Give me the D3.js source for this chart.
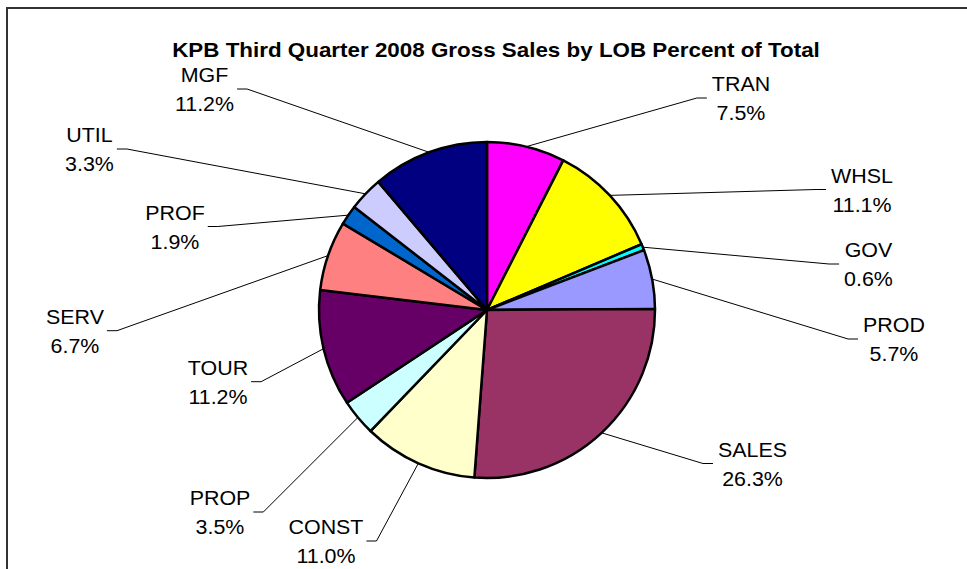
<!DOCTYPE html>
<html>
<head>
<meta charset="utf-8">
<script src="https://cdn.jsdelivr.net/npm/d3@7"></script>
<style>
body { margin: 0; background: #fff; }
svg { display: block; font-family: Arial, "Liberation Sans", sans-serif; }
</style>
</head>
<body>
<svg id="chart"></svg>
<script>
const categories = ['TRAN', 'WHSL', 'GOV', 'PROD', 'SALES', 'CONST', 'PROP', 'TOUR', 'SERV', 'PROF', 'UTIL', 'MGF'];
const percents = [7.5, 11.1, 0.6, 5.7, 26.3, 11.0, 3.5, 11.2, 6.7, 1.9, 3.3, 11.2];
const colors = ['#ff00ff', '#ffff00', '#00ffff', '#9999ff', '#993366', '#ffffcc',
                '#ccffff', '#660066', '#ff8080', '#0066cc', '#ccccff', '#000080'];

// where each label sits (centre x, middle y), same order as categories
const label_pos = [[741, 98], [862, 189.5], [868.5, 264], [894, 339], [752.5, 463.5], [326, 541],
                   [220, 512], [218, 381.7], [75, 330.7], [175, 226.5], [89.5, 149], [204.5, 89]];

class PieChart {

    constructor( config, data ){
        this.config = {
            parent: config.parent,
            width: config.width || 256,
            height: config.height || 256,
            cx: config.cx,
            cy: config.cy,
            radius: config.radius,
            title: config.title || ''
        }
        this.data = data;
        this.init();
    }

    init(){
        let self = this;

        self.svg = d3.select( self.config.parent )
            .attr('width', self.config.width)
            .attr('height', self.config.height);

        // frame of the chart area (runs off the right and bottom)
        self.svg.append('rect')
            .attr('x', 7)
            .attr('y', 8)
            .attr('width', 1000)
            .attr('height', 600)
            .attr('fill', 'none')
            .attr('stroke', '#333')
            .attr('stroke-width', 2);

        self.svg.append('text')
            .style('font-size', '20px')
            .style('font-weight', 'bold')
            .attr('text-anchor', 'middle')
            .attr('transform', `translate(496, 56.5) scale(1.12, 1)`)
            .text( self.config.title );

        self.chart = self.svg.append('g')
            .attr('transform', `translate(${self.config.cx}, ${self.config.cy})`);

        self.pie = d3.pie()
            .sort(null)
            .value(d => d.value);

        self.arc = d3.arc()
            .innerRadius(0)
            .outerRadius(self.config.radius);

        self.edge = d3.arc()
            .innerRadius(self.config.radius)
            .outerRadius(self.config.radius);

        self.labels = self.svg.append('g');
    }

    render(){
        let self = this;
        const arcs = self.pie(self.data);

        self.chart.selectAll('path')
            .data(arcs)
            .join('path')
            .attr('d', self.arc)
            .attr('fill', d => d.data.color)
            .attr('stroke', '#000')
            .attr('stroke-width', 2.5)
            .attr('stroke-linejoin', 'round');

        const line = d3.line();

        arcs.forEach(d => {
            const [lx, ly] = d.data.pos;
            const g = self.labels.append('g');
            const t1 = g.append('text')
                .attr('x', lx).attr('y', ly - 6.9)
                .attr('text-anchor', 'middle')
                .style('font-size', '20.5px')
                .attr('transform', `translate(${lx}, 0) scale(1.045, 1) translate(${-lx}, 0)`)
                .text(d.data.name);
            const t2 = g.append('text')
                .attr('x', lx).attr('y', ly + 22.3)
                .attr('text-anchor', 'middle')
                .style('font-size', '20.5px')
                .attr('transform', `translate(${lx}, 0) scale(1.045, 1) translate(${-lx}, 0)`)
                .text(d.data.value.toFixed(1) + '%');
            const half = Math.max(t1.node().getComputedTextLength(), t2.node().getComputedTextLength()) * 1.045 / 2;

            const [ex, ey] = self.edge.centroid(d);
            const p0 = [ex + self.config.cx, ey + self.config.cy];
            let p1, p2;
            if (lx < self.config.cx) {
                p1 = [lx + half + 13, ly];
                p2 = [lx + half + 3, ly];
            } else {
                p1 = [lx - half - 15, ly];
                p2 = [lx - half - 5, ly];
            }
            g.append('path')
                .attr('d', line([p0, p1, p2]))
                .attr('fill', 'none')
                .attr('stroke', '#000')
                .attr('stroke-width', 1);
        });
    }
}

const data = categories.map((c, i) => ({
    name: c,
    value: percents[i],
    color: colors[i],
    pos: label_pos[i]
}));

const chart = new PieChart({
    parent: '#chart',
    width: 967,
    height: 569,
    cx: 487,
    cy: 310,
    radius: 168,
    title: 'KPB Third Quarter 2008 Gross Sales by LOB Percent of Total'
}, data);
chart.render();
</script>
</body>
</html>
